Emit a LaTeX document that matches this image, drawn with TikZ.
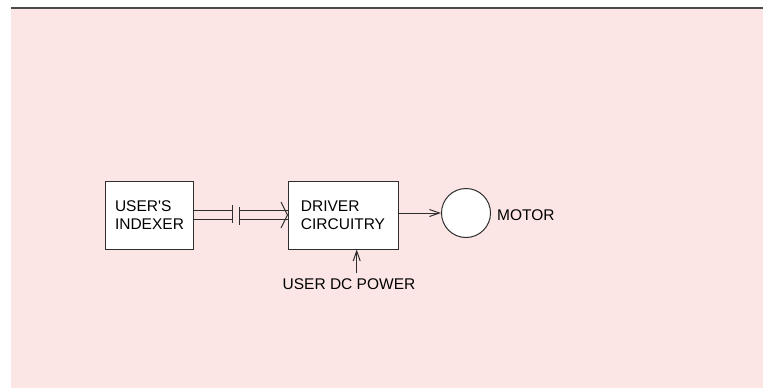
\documentclass[tikz,border=0pt]{standalone}
\usepackage{fontspec}
\setmainfont{Liberation Sans}
\usetikzlibrary{arrows.meta,positioning,calc}
\definecolor{bgpink}{HTML}{FCE6E5}
\definecolor{linegray}{HTML}{2E2E2E}
\definecolor{rulegray}{HTML}{4A4A4A}

\begin{document}
\begin{tikzpicture}[
    x=1pt,y=-1pt,
    font=\fontsize{15.5}{17.7}\selectfont,
    unit/.style={
        draw=linegray,
        fill=white,
        line width=1pt,
        minimum height=68pt,
        align=left,
        inner sep=0pt
    },
    motor/.style={
        draw=linegray,
        fill=white,
        line width=1pt,
        circle,
        minimum size=49pt,
        inner sep=0pt
    },
    label/.style={inner sep=0pt,text=black},
    link/.style={line width=1pt,linegray},
    flow/.style={-{Straight Barb[length=10pt,width=7pt]},line width=1pt,linegray}
]
\useasboundingbox (0,0) rectangle (763,388);

% Background and top rule
\fill[bgpink] (11,9) rectangle (763,388);
\draw[rulegray,line width=2pt] (11,8) -- (763,8);

% Blocks
\node[unit,minimum width=87.6pt] (idx) at (149.5,215) {USER\textquotesingle S\\INDEXER};
\node[unit,minimum width=110pt] (drv) at (343,215) {DRIVER\\CIRCUITRY};
\node[motor] (mot) at (466,213) {};
\node[label,anchor=west] (motlbl) at ($(mot.east)+(6,2.5)$) {MOTOR};
\node[label] (pwr) at (349,284) {USER DC POWER};

% Isolated step/direction link
\coordinate (gapa) at (232.7,215);
\coordinate (gapb) at (239.3,215);
\draw[link] ($(idx.east)+(0,-4.2)$) -- ($(gapa)+(0,-4.2)$);
\draw[link] ($(idx.east)+(0,4.2)$) -- ($(gapa)+(0,4.2)$);
\draw[link] ($(gapa)+(0,-10)$) -- ($(gapa)+(0,8)$);
\draw[link] ($(gapb)+(0,-8)$) -- ($(gapb)+(0,10)$);
\draw[link] ($(gapb)+(0,-4.2)$) -- ($(drv.west)+(0,-4.2)$);
\draw[link] ($(gapb)+(0,4.2)$) -- ($(drv.west)+(0,4.2)$);
\draw[link] ($(drv.west)+(-6.5,-13)$) -- (drv.west) -- ($(drv.west)+(-6.5,13)$);

% Driver to motor
\draw[flow] (drv.east |- mot.west) -- (mot.west);

% Power input
\coordinate (pwrin) at ($(drv.south)+(13.7,0)$);
\draw[flow] ($(pwrin |- pwr.north)+(0,-5)$) -- (pwrin);

\end{tikzpicture}
\end{document}
